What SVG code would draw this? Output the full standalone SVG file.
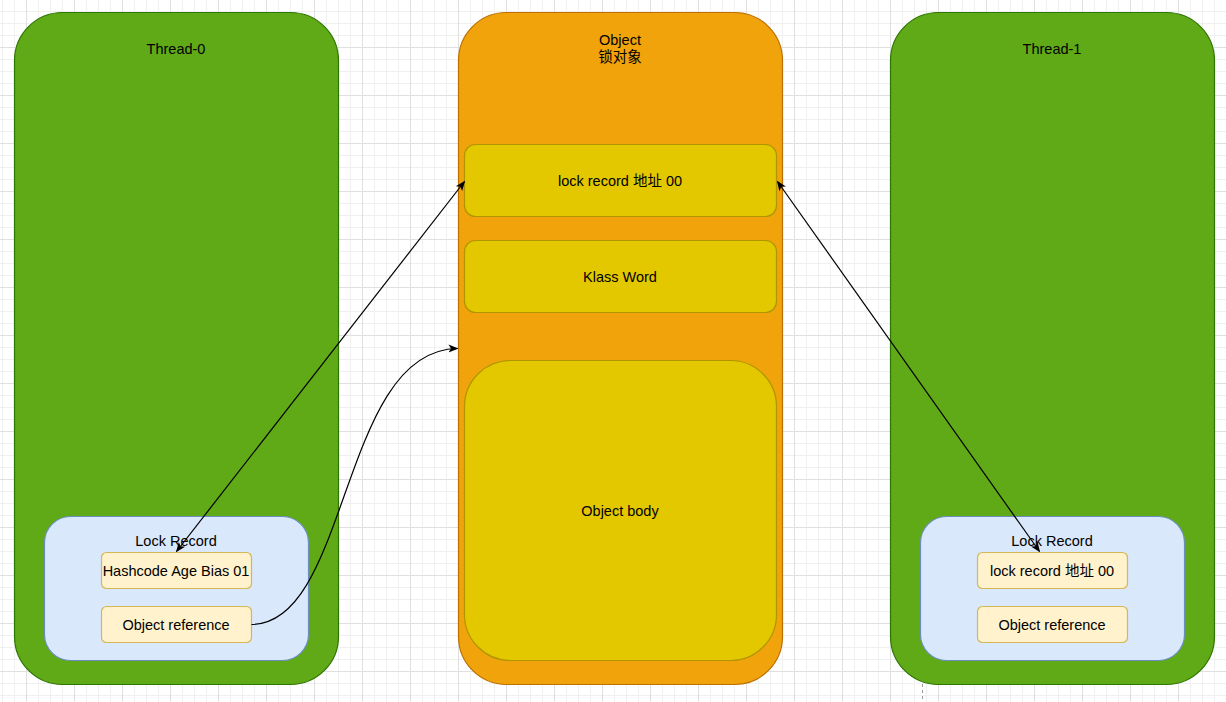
<svg xmlns="http://www.w3.org/2000/svg" width="1226" height="702" viewBox="0 0 1226 702">
<defs>
<pattern id="grid" x="26" y="-1" width="48" height="48" patternUnits="userSpaceOnUse">
<path d="M12.5 0V48M24.5 0V48M36.5 0V48M0 12.5H48M0 24.5H48M0 36.5H48" stroke="#f0f0f0" stroke-width="1" fill="none"/>
<path d="M0.5 0V48M0 0.5H48" stroke="#e0e0e0" stroke-width="1" fill="none"/>
</pattern>
<marker id="arr" viewBox="0 0 10 10" refX="9" refY="5" markerWidth="10" markerHeight="10" markerUnits="userSpaceOnUse" orient="auto-start-reverse">
<path d="M0 1 L10 5 L0 9 L2.5 5 Z" fill="#000"/>
</marker>
</defs>
<style>
text{font-family:"Liberation Sans","Noto Sans CJK SC",Arial,sans-serif;font-size:14.5px;fill:#000;text-anchor:middle;dominant-baseline:central}
.thread{fill:#60a917;stroke:#2d7600;stroke-width:1.2}
.obj{fill:#f0a30a;stroke:#bd7000;stroke-width:1.2}
.field{fill:#e3c800;stroke:#b09500;stroke-width:1.2}
.lr{fill:#dae8fc;stroke:#6c8ebf;stroke-width:1.2}
.cell{fill:#fff2cc;stroke:#d6b656;stroke-width:1.2}
.edge{fill:none;stroke:#000;stroke-width:1.2}
</style>
<rect x="0" y="0" width="1226" height="702" fill="#fff"/>
<rect x="0" y="0" width="1226" height="702" fill="url(#grid)"/>
<path d="M922.5 684V702" stroke="#999" stroke-dasharray="3 3" stroke-width="1"/>

<g id="thread0">
<rect class="thread" x="14.5" y="12.5" width="324" height="672" rx="48"/>
<text x="176" y="49">Thread-0</text>
</g>
<g id="object">
<rect class="obj" x="458.5" y="12.5" width="324" height="672" rx="48"/>
<text x="620" y="40">Object</text>
<text x="620" y="57">锁对象</text>
</g>
<g id="thread1">
<rect class="thread" x="890.5" y="12.5" width="324" height="672" rx="48"/>
<text x="1052" y="49">Thread-1</text>
</g>
<g id="markword">
<rect class="field" x="464.5" y="144.5" width="312" height="72" rx="11"/>
<text x="620" y="181">lock record 地址 00</text>
</g>
<g id="klass">
<rect class="field" x="464.5" y="240.5" width="312" height="72" rx="11"/>
<text x="620" y="277">Klass Word</text>
</g>
<g id="body">
<rect class="field" x="464.5" y="360.5" width="312" height="300" rx="46"/>
<text x="620" y="511">Object body</text>
</g>
<g id="lockrecord0">
<rect class="lr" x="44.5" y="516.5" width="264" height="144" rx="26"/>
<text x="176" y="541">Lock Record</text>
</g>
<g id="hash0">
<rect class="cell" x="101.5" y="552.5" width="150" height="36" rx="5"/>
<text x="176" y="571">Hashcode Age Bias 01</text>
</g>
<g id="ref0">
<rect class="cell" x="101.5" y="606.5" width="150" height="36" rx="5"/>
<text x="176" y="625">Object reference</text>
</g>
<g id="lockrecord1">
<rect class="lr" x="920.5" y="516.5" width="264" height="144" rx="26"/>
<text x="1052" y="541">Lock Record</text>
</g>
<g id="lr1">
<rect class="cell" x="977.5" y="552.5" width="150" height="36" rx="5"/>
<text x="1052" y="571">lock record 地址 00</text>
</g>
<g id="ref1">
<rect class="cell" x="977.5" y="606.5" width="150" height="36" rx="5"/>
<text x="1052" y="625">Object reference</text>
</g>

<g id="connectors">
<path class="edge" d="M176.5 551.5 L464.5 181.5" marker-start="url(#arr)" marker-end="url(#arr)"/>
<path class="edge" d="M1039.5 551.5 L777.5 181.5" marker-start="url(#arr)" marker-end="url(#arr)"/>
<path class="edge" d="M251.5 624.5 C350 624 340 350 457.5 348.5" marker-end="url(#arr)"/>
</g>
</svg>
